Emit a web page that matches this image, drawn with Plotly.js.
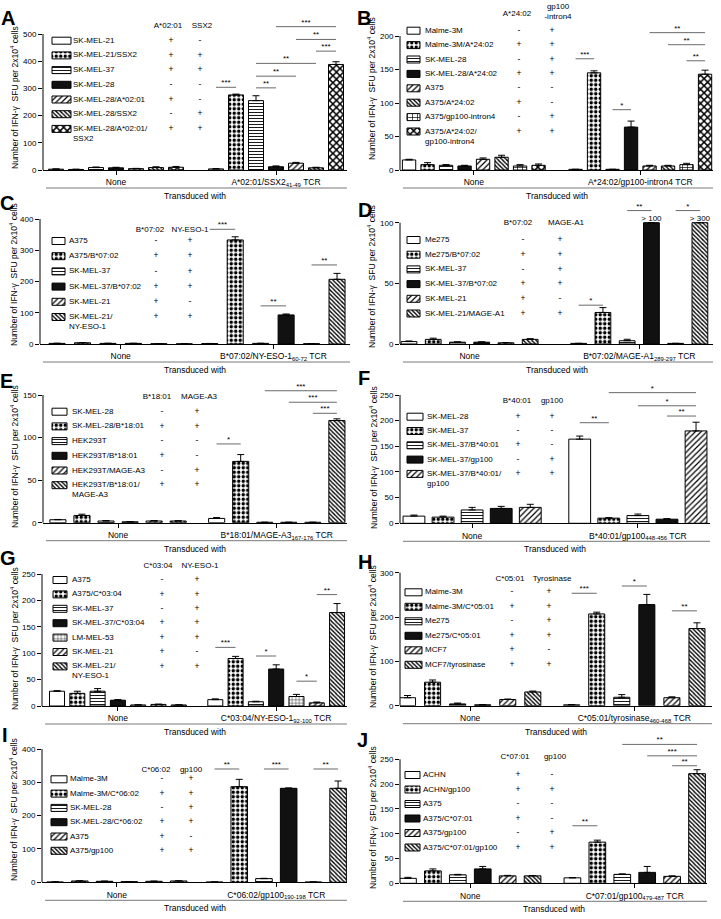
<!DOCTYPE html>
<html><head><meta charset="utf-8">
<script src="https://cdn.plot.ly/plotly-3.0.1.min.js"></script>
<style>html,body{margin:0;padding:0;background:#fff}#chart{width:721px;height:919px}</style>
</head><body><div id="chart"></div>
<script>
// ================= DATA =================
// Panel A
const A_cells = ['SK-MEL-21','SK-MEL-21/SSX2','SK-MEL-37','SK-MEL-28','SK-MEL-28/A*02:01','SK-MEL-28/SSX2','SK-MEL-28/A*02:01/<br>SSX2'];
const A_header = ['A*02:01','SSX2'];
const A_hla = ['+','+','+','-','+','-','+'];
const A_ag  = ['-','+','+','-','-','+','+'];
const A_none = [3,2,9,8,5,9,10];
const A_noneErr = [1,1,2,2,1,3,3];
const A_tcr = [4,276,255,12,25,8,388];
const A_tcrErr = [1,3,18,3,3,2,10];
const A_sigFrom = [7,9,9,9,12,11,10];
const A_sigTo   = [8,10,11,12,13,13,13];
const A_sigLevel= [304,302,345,392,437,480,527];
const A_sigText = ['***','**','**','**','***','**','***'];
const A_yTicks = [0,100,200,300,400,500];
const A_tcrLabel = 'A*02:01/SSX2<sub>41-49</sub> TCR';

// Panel B
const B_cells = ['Malme-3M','Malme-3M/A*24:02','SK-MEL-28','SK-MEL-28/A*24:02','A375','A375/A*24:02','A375/gp100-intron4','A375/A*24:02/<br>gp100-intron4'];
const B_header = ['A*24:02','gp100<br>-intron4'];
const B_hla = ['-','+','-','+','-','+','-','+'];
const B_ag  = ['+','+','+','+','-','-','+','+'];
const B_none = [15,8,7,6,16,19,6,7];
const B_noneErr = [1,3,1,1,2,3,2,2];
const B_tcr = [1,145,1,64,6,6,8,143];
const B_tcrErr = [0,3,0,9,1,1,2,6];
const B_sigFrom = [8,10,14,13,12];
const B_sigTo   = [9,11,15,15,15];
const B_sigLevel= [166,90,163,187,205];
const B_sigText = ['***','*','**','**','**'];
const B_yTicks = [0,50,100,150,200];
const B_tcrLabel = 'A*24:02/gp100-intron4 TCR';

// Panel C
const C_cells = ['A375','A375/B*07:02','SK-MEL-37','SK-MEL-37/B*07:02','SK-MEL-21','SK-MEL-21/<br>NY-ESO-1'];
const C_header = ['B*07:02','NY-ESO-1'];
const C_hla = ['-','+','-','+','+','+'];
const C_ag  = ['+','+','+','+','-','+'];
const C_none = [2,4,2,2,1,0.5];
const C_noneErr = [0.3,0.5,0.3,0.3,0.2,0];
const C_tcr = [1.5,333,2,93,1,207];
const C_tcrErr = [0.3,10,0.3,3,0.2,19];
const C_sigFrom = [6,8,10];
const C_sigTo   = [7,9,11];
const C_sigLevel= [367,122,253];
const C_sigText = ['***','**','**'];
const C_yTicks = [0,100,200,300,400];
const C_tcrLabel = 'B*07:02/NY-ESO-1<sub>60-72</sub> TCR';

// Panel D
const D_cells = ['Me275','Me275/B*07:02','SK-MEL-37','SK-MEL-37/B*07:02','SK-MEL-21','SK-MEL-21/MAGE-A1'];
const D_header = ['B*07:02','MAGE-A1'];
const D_hla = ['-','+','-','+','+','+'];
const D_ag  = ['+','+','+','+','-','+'];
const D_none = [2,3.8,1.5,1.5,1,3.8];
const D_noneErr = [0.5,1,0.3,0.3,0.2,0.6];
const D_tcr = [0.5,26,2.7,100,0.5,100];
const D_tcrErr = [0,4,1.2,0,0,0];
const D_tcrNote = ['','','','> 100','','> 300'];
const D_sigFrom = [6,8,10];
const D_sigTo   = [7,9,11];
const D_sigLevel= [32,110,110];
const D_sigText = ['*','**','*'];
const D_yTicks = [0,50,100];
const D_tcrLabel = 'B*07:02/MAGE-A1<sub>289-297</sub> TCR';

// Panel E
const E_cells = ['SK-MEL-28','SK-MEL-28/B*18:01','HEK293T','HEK293T/B*18:01','HEK293T/MAGE-A3','HEK293T/B*18:01/<br>MAGE-A3'];
const E_header = ['B*18:01','MAGE-A3'];
const E_hla = ['-','+','-','+','-','+'];
const E_ag  = ['+','+','-','-','+','+'];
const E_none = [3.5,8.5,2,1,2,2];
const E_noneErr = [0.3,1.5,0.5,0.2,0.5,0.3];
const E_tcr = [5,72,0.5,0.5,0.5,120];
const E_tcrErr = [1,8,0,0,0,2];
const E_sigFrom = [6,10,9,8];
const E_sigTo   = [7,11,11,11];
const E_sigLevel= [92.5,128.5,141.5,155];
const E_sigText = ['*','***','***','***'];
const E_yTicks = [0,50,100,150];
const E_tcrLabel = 'B*18:01/MAGE-A3<sub>167-176</sub> TCR';

// Panel F
const F_cells = ['SK-MEL-28','SK-MEL-37','SK-MEL-37/B*40:01','SK-MEL-37/gp100','SK-MEL-37/B*40:01/<br>gp100'];
const F_header = ['B*40:01','gp100'];
const F_hla = ['+','-','+','-','+'];
const F_ag  = ['+','-','-','+','+'];
const F_none = [14,12,26,29,31];
const F_noneErr = [2,2,5,4,6];
const F_tcr = [164,10,15,8,180];
const F_tcrErr = [6,1,3,1,17];
const F_sigFrom = [5,8,7,6];
const F_sigTo   = [6,9,9,9];
const F_sigLevel= [196,209,229,254.6];
const F_sigText = ['**','**','*','*'];
const F_yTicks = [0,50,100,150,200,250];
const F_tcrLabel = 'B*40:01/gp100<sub>448-456</sub> TCR';

// Panel G
const G_cells = ['A375','A375/C*03:04','SK-MEL-37','SK-MEL-37/C*03:04','LM-MEL-53','SK-MEL-21','SK-MEL-21/<br>NY-ESO-1'];
const G_header = ['C*03:04','NY-ESO-1'];
const G_hla = ['-','+','-','+','+','+','+'];
const G_ag  = ['+','+','+','+','+','-','+'];
const G_none = [28,24,28,11,2,3,2];
const G_noneErr = [1,4,5,1,0.3,0.5,0.3];
const G_tcr = [12,90,8,70,18,6,177];
const G_tcrErr = [1.5,4,1,8,4,1.5,17];
const G_sigFrom = [7,9,11,12];
const G_sigTo   = [8,10,12,13];
const G_sigLevel= [111,94.7,47,211];
const G_sigText = ['***','*','*','**'];
const G_yTicks = [0,50,100,150,200,250];
const G_tcrLabel = 'C*03:04/NY-ESO-1<sub>92-100</sub> TCR';

// Panel H
const H_cells = ['Malme-3M','Malme-3M/C*05:01','Me275','Me275/C*05:01','MCF7','MCF7/tyrosinase'];
const H_header = ['C*05:01','Tyrosinase'];
const H_hla = ['-','+','-','+','+','+'];
const H_ag  = ['+','+','+','+','-','+'];
const H_none = [18,53,4,2,14,31];
const H_noneErr = [5,5,2,0.5,1,2];
const H_tcr = [2,207,19,228,18,174];
const H_tcrErr = [0.5,4,6,23,2,13];
const H_sigFrom = [6,8,10];
const H_sigTo   = [7,9,11];
const H_sigLevel= [253.6,270,214];
const H_sigText = ['***','*','**'];
const H_yTicks = [0,100,200,300];
const H_tcrLabel = 'C*05:01/tyrosinase<sub>460-468</sub> TCR';

// Panel I
const I_cells = ['Malme-3M','Malme-3M/C*06:02','SK-MEL-28','SK-MEL-28/C*06:02','A375','A375/gp100'];
const I_header = ['C*06:02','gp100'];
const I_hla = ['-','+','-','+','+','+'];
const I_ag  = ['+','+','+','+','-','+'];
const I_none = [1,4,3,2,3,4];
const I_noneErr = [0.2,0.5,0.5,0.3,0.5,0.5];
const I_tcr = [1,287,11,282,1,282];
const I_tcrErr = [0,22,1,1,0,22];
const I_sigFrom = [6,8,10];
const I_sigTo   = [7,9,11];
const I_sigLevel= [340,340,340];
const I_sigText = ['**','***','**'];
const I_yTicks = [0,100,200,300,400];
const I_tcrLabel = 'C*06:02/gp100<sub>190-198</sub> TCR';

// Panel J
const J_cells = ['ACHN','ACHN/gp100','A375','A375/C*07:01','A375/gp100','A375/C*07:01/gp100'];
const J_header = ['C*07:01','gp100'];
const J_hla = ['+','+','-','+','-','+'];
const J_ag  = ['-','+','-','-','+','+'];
const J_none = [10,25,17,29,15,15];
const J_noneErr = [2,4,1,5,1,0.5];
const J_tcr = [11,83,18,22,14,221];
const J_tcrErr = [0.5,4,1,12,1,8];
const J_sigFrom = [6,10,9,8];
const J_sigTo   = [7,11,11,11];
const J_sigLevel= [116,237,257,280];
const J_sigText = ['**','**','***','**'];
const J_yTicks = [0,50,100,150,200,250];
const J_tcrLabel = 'C*07:01/gp100<sub>479-487</sub> TCR';

const noneLabel = 'None';
const transducedLabel = 'Transduced with';
const yTitle = 'Number of IFN-\u03b3\u00a0\u00a0SFU per 2x10<sup>4</sup> cells';

// ================= STYLE / LAYOUT CONFIG =================
const W = 721, H = 919;
const FONT = '"Liberation Sans", Arial, Helvetica, sans-serif';
// In 'replace' fill mode the per-bar marker colour is the pattern foreground.
const PAT = {
  open:   {color:'#ffffff', shape:'',  size:4,   sol:0.3},
  checker:{color:'#000000', shape:'.', size:4.5, sol:0.45},
  hstripe:{color:'#000000', shape:'-', size:3,   sol:0.3},
  black:  {color:'#111111', shape:'',  size:4,   sol:0.3},
  fwd:    {color:'#000000', shape:'/', size:4,   sol:0.3},
  back:   {color:'#000000', shape:'\\',size:3,   sol:0.45},
  cross:  {color:'#000000', shape:'x', size:5,   sol:0.5},
  grid:   {color:'#000000', shape:'+', size:5,   sol:0.25},
  brick:  {color:'#000000', shape:'+', size:3.5, sol:0.22}
};
const S6 = ['open','checker','hstripe','black','fwd','back'];
const CFG = {
 A:{x0:43,x1:347,y0:170,yTopPx:34,topPx:12,padL:0.65,padR:0.55,gap:2,barW:0.75,letter:[8,18],ytitle:[15,98],
    styles:['open','checker','hstripe','black','fwd','back','cross'],
    leg:{sx:52,sw:19,lx:73,r0:40.7,rh:14.7,c1:171,c2:200,hy:26,h1:168,h2:202}},
 B:{x0:400,x1:713,y0:170,yTopPx:36,topPx:15,padL:0.49,padR:0.43,gap:2,barW:0.72,letter:[364,18],ytitle:[372,89],
    styles:['open','checker','hstripe','black','fwd','back','grid','cross'],
    leg:{sx:407,sw:13,lx:425,r0:30.7,rh:14.4,c1:519,c2:552,hy:14,hy2:12,h1:517,h2:558}},
 C:{x0:40,x1:350,y0:344,yTopPx:219,topPx:212,padL:0.67,padR:0.51,gap:1,barW:0.63,letter:[7,203],ytitle:[13,275],
    styles:S6, leg:{sx:52,sw:13,lx:69,r0:241,rh:15.2,c1:156,c2:190,hy:230,h1:150,h2:190}},
 D:{x0:400,x1:713,y0:344,yTopPx:222.7,topPx:200,padL:0.37,padR:0.54,gap:2,barW:0.65,letter:[365,210],ytitle:[372,277],
    styles:S6, leg:{sx:407,sw:13,lx:425,r0:240,rh:14.7,c1:523,c2:560,hy:222.7,h1:518,h2:566}},
 E:{x0:43,x1:347,y0:522.7,yTopPx:395,topPx:380,padL:0.62,padR:0.42,gap:1.6,barW:0.67,letter:[7,381],ytitle:[14,457],
    styles:S6, leg:{sx:52,sw:15,lx:72,r0:411.7,rh:14.7,c1:162,c2:197,hy:397,h1:157,h2:199}},
 F:{x0:400,x1:710,y0:523.3,yTopPx:395,topPx:382,padL:0.48,padR:0.48,gap:1.7,barW:0.75,letter:[364,378],ytitle:[373,458],
    styles:['open','checker','hstripe','black','fwd'],
    leg:{sx:407,sw:16,lx:427,r0:416.7,rh:14.3,c1:518,c2:552,hy:400.7,h1:517,h2:552}},
 G:{x0:42,x1:347,y0:706,yTopPx:574,topPx:565,padL:0.74,padR:0.49,gap:1.8,barW:0.74,letter:[8,558],ytitle:[14,639],
    styles:['open','checker','hstripe','black','brick','fwd','back'],
    leg:{sx:53,sw:14,lx:72,r0:580,rh:14.4,c1:162,c2:197,hy:566,h1:158,h2:200}},
 H:{x0:400,x1:712,y0:705.7,yTopPx:572.7,topPx:565,padL:0.3,padR:0.6,gap:1.55,barW:0.64,letter:[365,562],ytitle:[372,637],
    styles:S6, leg:{sx:405,sw:17,lx:425,r0:592.3,rh:14.5,c1:512,c2:549,hy:579.3,h1:510,h2:552}},
 I:{x0:42,x1:347,y0:882.3,yTopPx:749,topPx:745,padL:0.53,padR:0.36,gap:1.45,barW:0.67,letter:[5,735],ytitle:[13,810],
    styles:S6, leg:{sx:51,sw:16,lx:70,r0:779.3,rh:14.3,c1:162,c2:191,hy:770,h1:156,h2:191}},
 J:{x0:400,x1:707,y0:883.3,yTopPx:759.3,topPx:735,padL:0.32,padR:0.4,gap:1.6,barW:0.67,letter:[362,740],ytitle:[372,818],
    styles:S6, leg:{sx:405,sw:15,lx:423,r0:775,rh:14.5,c1:518,c2:552,hy:757.3,h1:515,h2:555}}
};

const panels = [
 {key:'A',cells:A_cells,header:A_header,hla:A_hla,ag:A_ag,none:A_none,noneErr:A_noneErr,tcr:A_tcr,tcrErr:A_tcrErr,sigFrom:A_sigFrom,sigTo:A_sigTo,sigLevel:A_sigLevel,sigText:A_sigText,ticks:A_yTicks,tcrLabel:A_tcrLabel},
 {key:'B',cells:B_cells,header:B_header,hla:B_hla,ag:B_ag,none:B_none,noneErr:B_noneErr,tcr:B_tcr,tcrErr:B_tcrErr,sigFrom:B_sigFrom,sigTo:B_sigTo,sigLevel:B_sigLevel,sigText:B_sigText,ticks:B_yTicks,tcrLabel:B_tcrLabel},
 {key:'C',cells:C_cells,header:C_header,hla:C_hla,ag:C_ag,none:C_none,noneErr:C_noneErr,tcr:C_tcr,tcrErr:C_tcrErr,sigFrom:C_sigFrom,sigTo:C_sigTo,sigLevel:C_sigLevel,sigText:C_sigText,ticks:C_yTicks,tcrLabel:C_tcrLabel},
 {key:'D',cells:D_cells,header:D_header,hla:D_hla,ag:D_ag,none:D_none,noneErr:D_noneErr,tcr:D_tcr,tcrErr:D_tcrErr,sigFrom:D_sigFrom,sigTo:D_sigTo,sigLevel:D_sigLevel,sigText:D_sigText,ticks:D_yTicks,tcrLabel:D_tcrLabel,tcrNote:D_tcrNote},
 {key:'E',cells:E_cells,header:E_header,hla:E_hla,ag:E_ag,none:E_none,noneErr:E_noneErr,tcr:E_tcr,tcrErr:E_tcrErr,sigFrom:E_sigFrom,sigTo:E_sigTo,sigLevel:E_sigLevel,sigText:E_sigText,ticks:E_yTicks,tcrLabel:E_tcrLabel},
 {key:'F',cells:F_cells,header:F_header,hla:F_hla,ag:F_ag,none:F_none,noneErr:F_noneErr,tcr:F_tcr,tcrErr:F_tcrErr,sigFrom:F_sigFrom,sigTo:F_sigTo,sigLevel:F_sigLevel,sigText:F_sigText,ticks:F_yTicks,tcrLabel:F_tcrLabel},
 {key:'G',cells:G_cells,header:G_header,hla:G_hla,ag:G_ag,none:G_none,noneErr:G_noneErr,tcr:G_tcr,tcrErr:G_tcrErr,sigFrom:G_sigFrom,sigTo:G_sigTo,sigLevel:G_sigLevel,sigText:G_sigText,ticks:G_yTicks,tcrLabel:G_tcrLabel},
 {key:'H',cells:H_cells,header:H_header,hla:H_hla,ag:H_ag,none:H_none,noneErr:H_noneErr,tcr:H_tcr,tcrErr:H_tcrErr,sigFrom:H_sigFrom,sigTo:H_sigTo,sigLevel:H_sigLevel,sigText:H_sigText,ticks:H_yTicks,tcrLabel:H_tcrLabel},
 {key:'I',cells:I_cells,header:I_header,hla:I_hla,ag:I_ag,none:I_none,noneErr:I_noneErr,tcr:I_tcr,tcrErr:I_tcrErr,sigFrom:I_sigFrom,sigTo:I_sigTo,sigLevel:I_sigLevel,sigText:I_sigText,ticks:I_yTicks,tcrLabel:I_tcrLabel},
 {key:'J',cells:J_cells,header:J_header,hla:J_hla,ag:J_ag,none:J_none,noneErr:J_noneErr,tcr:J_tcr,tcrErr:J_tcrErr,sigFrom:J_sigFrom,sigTo:J_sigTo,sigLevel:J_sigLevel,sigText:J_sigText,ticks:J_yTicks,tcrLabel:J_tcrLabel}
];

// ================= BUILD =================
const data = [], shapes = [], annotations = [];
const layout = {
  width:W, height:H, margin:{l:0,r:0,t:0,b:0},
  paper_bgcolor:'#ffffff', plot_bgcolor:'rgba(0,0,0,0)',
  showlegend:false, barmode:'overlay',
  font:{family:FONT, size:8.5, color:'#000'}
};
const leg = {x:[],y:[],base:[],sty:[]};
const legTxt = {x:[],y:[],t:[]};
const sign = {x:[],y:[],t:[]};
const head = {x:[],y:[],t:[]};
const txtFont = {family:FONT, size:8, color:'#000'};

function patMarker(sty){
  return {color:sty.map(s=>s.color), line:{color:'#000',width:1},
    pattern:{shape:sty.map(s=>s.shape), size:sty.map(s=>s.size), solidity:sty.map(s=>s.sol), fillmode:'replace'}};
}

panels.forEach((p,k)=>{
  const g = CFG[p.key];
  const xs = k===0 ? '' : String(k+1);
  const n = p.cells.length;
  const pos = [];
  for(let i=0;i<n;i++) pos.push(i);
  for(let i=0;i<n;i++) pos.push(n-1+g.gap+i);
  const vals = p.none.concat(p.tcr);
  const errs = p.noneErr.concat(p.tcrErr);
  const sty = g.styles.concat(g.styles).map(s=>PAT[s]);
  const T = p.ticks[p.ticks.length-1];
  data.push({
    type:'bar', x:pos, y:vals, width:g.barW, xaxis:'x'+xs, yaxis:'y'+xs,
    marker:patMarker(sty),
    error_y:{type:'data', symmetric:false, array:errs, arrayminus:errs.map(()=>0), color:'#000', thickness:1, width:3.5},
    showlegend:false, hoverinfo:'skip'
  });
  const lx=[], ly=[], tx=[], ty=[];
  p.sigFrom.forEach((f,j)=>{
    const a=pos[f], b=pos[p.sigTo[j]], lv=p.sigLevel[j];
    lx.push(a,b,null); ly.push(lv,lv,null); tx.push((a+b)/2); ty.push(lv);
  });
  data.push({type:'scatter', mode:'lines', x:lx, y:ly, xaxis:'x'+xs, yaxis:'y'+xs,
    line:{color:'#444',width:0.8}, showlegend:false, hoverinfo:'skip'});
  data.push({type:'scatter', mode:'text', x:tx, y:ty, text:p.sigText, textposition:'top center',
    textfont:{family:FONT,size:8,color:'#000'}, xaxis:'x'+xs, yaxis:'y'+xs, showlegend:false, hoverinfo:'skip', cliponaxis:false});
  if(p.tcrNote){
    const nx=[], ny=[], nt=[];
    p.tcrNote.forEach((t,i)=>{ if(t){ nx.push(pos[n+i]); ny.push(p.tcr[i]); nt.push(t);} });
    data.push({type:'scatter', mode:'text', x:nx, y:ny, text:nt, textposition:'top center',
      textfont:{family:FONT,size:8,color:'#000'}, xaxis:'x'+xs, yaxis:'y'+xs, showlegend:false, hoverinfo:'skip', cliponaxis:false});
  }
  const yMax = (g.y0-g.topPx)*T/(g.y0-g.yTopPx);
  layout['xaxis'+xs] = {
    domain:[g.x0/W, g.x1/W], range:[-g.padL, 2*n-2+g.gap+g.padR], anchor:'y'+xs,
    showline:true, linecolor:'#000', linewidth:1, ticks:'outside', ticklen:4, tickwidth:1, tickcolor:'#000',
    tickvals:[(n-1)/2, n-1+g.gap+(n-1)/2], ticktext:[noneLabel, p.tcrLabel],
    tickfont:{family:FONT,size:8.5,color:'#000'}, showgrid:false, zeroline:false, fixedrange:true
  };
  layout['yaxis'+xs] = {
    domain:[1-g.y0/H, 1-g.topPx/H], range:[0,yMax], anchor:'x'+xs,
    showline:false, ticks:'outside', ticklen:4, tickwidth:1, tickcolor:'#000',
    tickvals:p.ticks, ticktext:p.ticks.map(String),
    tickfont:{family:FONT,size:8,color:'#000'}, showgrid:false, zeroline:false, fixedrange:true
  };
  shapes.push({type:'line', xref:'x'+xs+' domain', x0:0, x1:0, yref:'y'+xs, y0:0, y1:T, line:{color:'#000',width:1}});
  const ly2 = 1-(g.y0+18)/H;
  shapes.push({type:'line', xref:'paper', yref:'paper', x0:(g.x0+3)/W, x1:g.x1/W, y0:ly2, y1:ly2, line:{color:'#555',width:0.8}});
  annotations.push({text:transducedLabel, xref:'paper', yref:'paper', x:(g.x0+g.x1)/2/W, y:1-(g.y0+26)/H,
    xanchor:'center', yanchor:'middle', showarrow:false, font:{family:FONT,size:8.5,color:'#000'}});
  annotations.push({text:'<b>'+p.key+'</b>', xref:'paper', yref:'paper', x:g.letter[0]/W, y:1-g.letter[1]/H,
    xanchor:'center', yanchor:'middle', showarrow:false, font:{family:FONT,size:20,color:'#000'}});
  annotations.push({text:yTitle, xref:'paper', yref:'paper', x:g.ytitle[0]/W, y:1-g.ytitle[1]/H, textangle:-90,
    xanchor:'center', yanchor:'middle', showarrow:false, font:{family:FONT,size:8.5,color:'#000'}});
  const L = g.leg;
  p.cells.forEach((c,i)=>{
    const yy = L.r0 + i*L.rh;
    leg.x.push(L.sw); leg.y.push(yy); leg.base.push(L.sx); leg.sty.push(PAT[g.styles[i]]);
    c.split('<br>').forEach((ln,j)=>{ legTxt.x.push(L.lx); legTxt.y.push(yy + j*10); legTxt.t.push(ln); });
    sign.x.push(L.c1, L.c2); sign.y.push(yy, yy); sign.t.push(p.hla[i], p.ag[i]);
  });
  head.x.push(L.h1, L.h2); head.y.push(L.hy, L.hy2 !== undefined ? L.hy2 : L.hy); head.t.push(p.header[0], p.header[1]);
});

layout.xaxis11 = {domain:[0,1], range:[0,W], anchor:'y11', visible:false, fixedrange:true};
layout.yaxis11 = {domain:[0,1], range:[H,0], anchor:'x11', visible:false, fixedrange:true};
data.push({
  type:'bar', orientation:'h', x:leg.x, y:leg.y, base:leg.base, width:7, xaxis:'x11', yaxis:'y11',
  marker:patMarker(leg.sty), showlegend:false, hoverinfo:'skip'
});
data.push({type:'scatter', mode:'text', x:legTxt.x, y:legTxt.y, text:legTxt.t, textposition:'middle right',
  textfont:txtFont, xaxis:'x11', yaxis:'y11', showlegend:false, hoverinfo:'skip', cliponaxis:false});
data.push({type:'scatter', mode:'text', x:sign.x, y:sign.y, text:sign.t, textposition:'middle center',
  textfont:{family:FONT,size:8.5,color:'#000'}, xaxis:'x11', yaxis:'y11', showlegend:false, hoverinfo:'skip', cliponaxis:false});
data.push({type:'scatter', mode:'text', x:head.x, y:head.y, text:head.t, textposition:'middle center',
  textfont:txtFont, xaxis:'x11', yaxis:'y11', showlegend:false, hoverinfo:'skip', cliponaxis:false});

layout.shapes = shapes;
layout.annotations = annotations;
Plotly.newPlot('chart', data, layout, {staticPlot:true, displayModeBar:false});
</script></body></html>
